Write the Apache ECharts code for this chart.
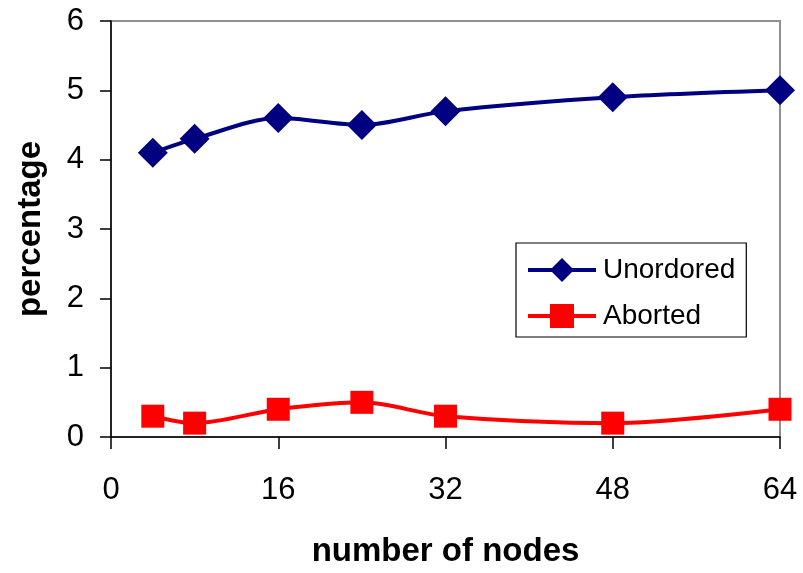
<!DOCTYPE html>
<html><head><meta charset="utf-8">
<script src="https://cdn.jsdelivr.net/npm/echarts@6/dist/echarts.min.js"></script>
<style>html,body{margin:0;padding:0;background:#fff}#c{width:803px;height:573px}</style>
</head><body><div id="c"></div>
<script>
var nodes = [4, 8, 16, 24, 32, 48, 64];
var unordered = [4.1, 4.3, 4.6, 4.5, 4.7, 4.9, 5.0];
var aborted = [0.3, 0.2, 0.4, 0.5, 0.3, 0.2, 0.4];
var xTicks = [0, 16, 32, 48, 64];
var yTicks = [0, 1, 2, 3, 4, 5, 6];

function pairs(xs, ys){ return xs.map(function(x,i){return [x, ys[i]];}); }
var font = 'Liberation Sans, Arial, sans-serif';
var chart = echarts.init(document.getElementById('c'));
chart.setOption({
  animation: false,
  grid: {left: 111, top: 21, right: 23, bottom: 134, show: true, borderColor: '#909090', borderWidth: 2},
  xAxis: {
    type: 'value', min: 0, max: 64, interval: 16,
    name: 'number of nodes', nameLocation: 'middle', nameGap: 98,
    nameTextStyle: {fontFamily: font, fontSize: 33, fontWeight: 'bold', color: '#000'},
    axisLine: {lineStyle: {color: '#000', width: 1.5}},
    axisTick: {show: true, length: 12, inside: false, lineStyle: {color: '#000', width: 1.5}},
    axisLabel: {fontFamily: font, fontSize: 31, color: '#000', margin: 38,
      formatter: function(v){ return xTicks.indexOf(v) >= 0 ? String(v) : ''; }},
    splitLine: {show: false}
  },
  yAxis: {
    type: 'value', min: 0, max: 6, interval: 1,
    name: 'percentage', nameLocation: 'middle', nameGap: 64, nameRotate: 90,
    nameTextStyle: {fontFamily: font, fontSize: 33, fontWeight: 'bold', color: '#000'},
    axisLine: {show: true, lineStyle: {color: '#000', width: 1.5}},
    axisTick: {show: true, length: 11, lineStyle: {color: '#000', width: 1.5}},
    axisLabel: {fontFamily: font, fontSize: 31, color: '#000', margin: 27,
      formatter: function(v){ return yTicks.indexOf(v) >= 0 ? String(v) : ''; }},
    splitLine: {show: false}
  },
  legend: {
    orient: 'vertical', left: 516, top: 243,
    padding: [13, 11, 7, 10], itemGap: 18,
    borderColor: '#000', borderWidth: 1.2, backgroundColor: '#fff',
    itemWidth: 68, itemHeight: 30,
    lineStyle: {width: 4},
    textStyle: {fontFamily: font, fontSize: 28, color: '#000', padding: [0, 0, 0, 2]},
    data: ['Unordored', 'Aborted']
  },
  series: [
    {name: 'Unordored', type: 'line', smooth: 0.3, data: pairs(nodes, unordered),
     symbol: 'diamond', symbolSize: [30, 30], color: '#000080',
     lineStyle: {width: 4, color: '#000080'}, itemStyle: {color: '#000080'}},
    {name: 'Aborted', type: 'line', smooth: 0.3, data: pairs(nodes, aborted),
     symbol: 'rect', symbolSize: [23, 23], color: '#ff0000',
     lineStyle: {width: 4, color: '#ff0000'}, itemStyle: {color: '#ff0000'}}
  ]
});
</script></body></html>
